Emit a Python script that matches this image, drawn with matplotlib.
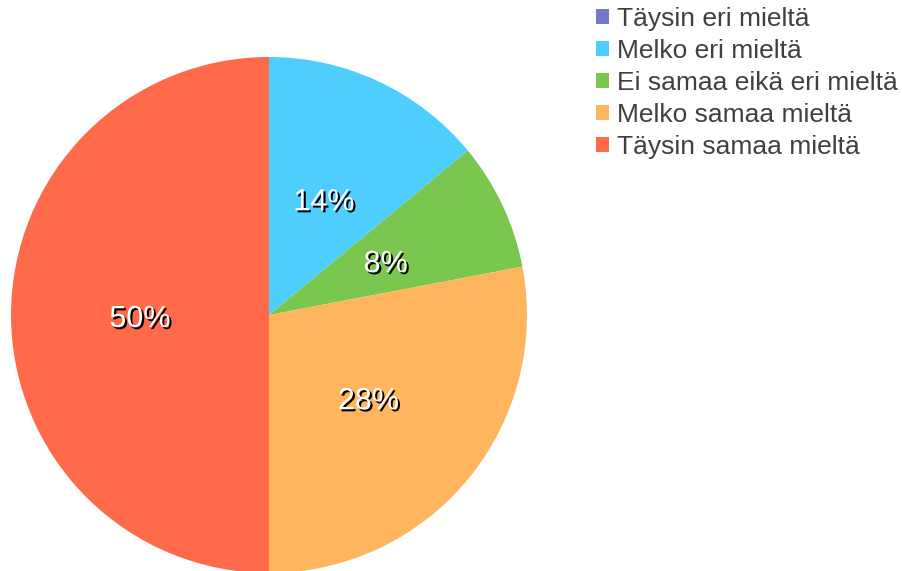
import matplotlib.pyplot as plt
import matplotlib.patheffects as pe
from matplotlib.patches import Patch

plt.rcParams["font.family"] = ["Liberation Sans", "DejaVu Sans"]

# Data
categories = [
    "Täysin eri mieltä",
    "Melko eri mieltä",
    "Ei samaa eikä eri mieltä",
    "Melko samaa mieltä",
    "Täysin samaa mieltä",
]
values = [0, 14, 8, 28, 50]
colors = ["#7378C9", "#4ECEFF", "#7AC74F", "#FFB55E", "#FF6A4A"]

fig = plt.figure(figsize=(9.03, 5.71), dpi=100)
ax = fig.add_axes([0, 0, 1, 1])


def fmt(pct):
    return f"{pct:.0f}%" if pct >= 0.5 else ""


wedges, texts, autotexts = ax.pie(
    values,
    colors=colors,
    startangle=90,
    counterclock=False,
    center=(269, 256),
    radius=258,
    autopct=fmt,
    pctdistance=0.5,
    frame=True,
    textprops=dict(color="white", fontsize=22),
)
ax.set_xlim(0, 903)
ax.set_ylim(0, 571)
ax.axis("off")

for t in autotexts:
    x, y = t.get_position()
    t.set_position((x, y - 4))
    t.set_path_effects(
        [pe.withSimplePatchShadow(offset=(1.5, -1.5), shadow_rgbFace="black", alpha=1.0)]
    )

handles = [Patch(facecolor=c, edgecolor="none") for c in colors]
fig.legend(
    handles,
    categories,
    loc="upper left",
    bbox_to_anchor=(596 / 903, 1 - 7 / 571),
    frameon=False,
    fontsize=19,
    handlelength=0.5,
    handleheight=0.5,
    handletextpad=0.3,
    labelspacing=0.3,
    labelcolor="#404040",
    borderpad=0,
    borderaxespad=0,
)

fig.savefig("out.png", dpi=100)
